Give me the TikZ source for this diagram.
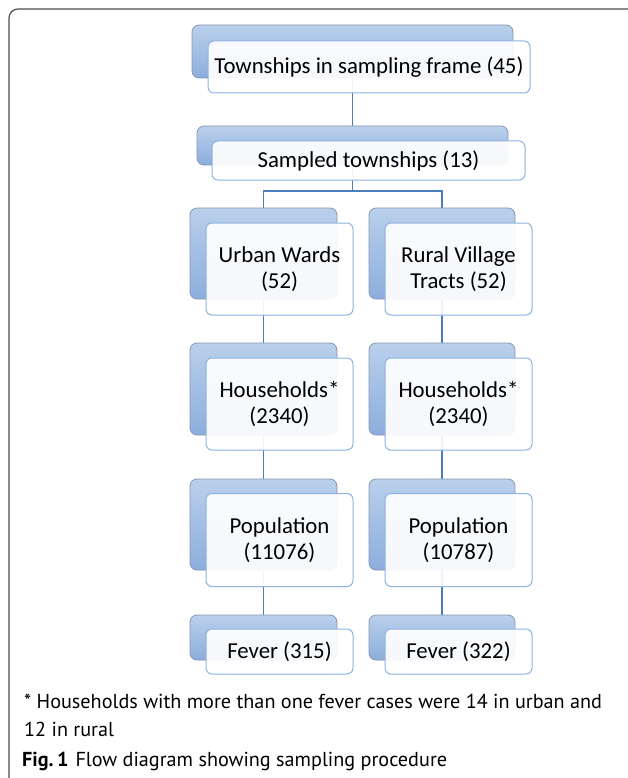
\documentclass[tikz,border=0pt]{standalone}
\usepackage{fontspec}
\setmainfont{Carlito}
\newfontfamily\notefont{PT Sans}
\usetikzlibrary{calc}
\definecolor{conn}{HTML}{4A7EBB}
\definecolor{backtop}{HTML}{BAD0EC}
\definecolor{backbot}{HTML}{8CADDC}
\definecolor{backedge}{HTML}{8797AD}
\definecolor{frontedge}{HTML}{8DB3E2}
\definecolor{framec}{HTML}{4D4D4D}
\tikzset{
  backbox/.style={rounded corners=7pt, draw=backedge, line width=0.8pt,
    top color=backtop, bottom color=backbot, inner sep=0pt, outer sep=0pt},
  frontbox/.style={rounded corners=6pt, draw=frontedge, line width=1pt,
    fill=white, fill opacity=0.92, text opacity=1, inner sep=0pt, outer sep=0pt,
    align=center, font=\fontsize{22.8}{25.5}\selectfont},
  connector/.style={draw=conn, line width=1.5pt},
  notetext/.style={anchor=base west, inner sep=0pt, font=\notefont\fontsize{20.2}{24}\selectfont}
}
\begin{document}
\begin{tikzpicture}[x=1pt,y=-1pt]
\useasboundingbox (0,0) rectangle (627,778);
% outer frame
\draw[framec, line width=1.2pt, rounded corners=9pt] (9,790) -- (9,9) -- (640,9);
% coordinates for back-box centres (used by connectors)
\coordinate (T1c) at (352.5,51.5);
\coordinate (T2c) at (352.5,145.5);
\coordinate (split) at (352.5,191);
\coordinate (L1c) at (263.5,253.5);
\coordinate (L2c) at (263.5,389);
\coordinate (L3c) at (263.5,524.5);
\coordinate (L4c) at (263.5,637.5);
\coordinate (R1c) at (442,253.5);
\coordinate (R2c) at (442,389);
\coordinate (R3c) at (442,524.5);
\coordinate (R4c) at (442,637.5);
% connectors
\draw[connector] (T1c) -- (T2c);
\draw[connector] (T2c) -- (split);
\draw[connector] (split) -| (L1c);
\draw[connector] (split) -| (R1c);
\draw[connector] (L1c) -- (L2c);
\draw[connector] (L2c) -- (L3c);
\draw[connector] (L3c) -- (L4c);
\draw[connector] (R1c) -- (R2c);
\draw[connector] (R2c) -- (R3c);
\draw[connector] (R3c) -- (R4c);
% boxes
\node[backbox, minimum width=321pt, minimum height=53pt] (T1b) at (T1c) {};
\node[frontbox, minimum width=322pt, minimum height=52pt] (T1) at (369,67) {Townships in sampling frame (45)};
\node[backbox, minimum width=311pt, minimum height=39pt] (T2b) at (T2c) {};
\node[frontbox, minimum width=313pt, minimum height=39pt] (T2) at (368.5,160.5) {Sampled townships (13)};
% left column
\node[backbox, minimum width=147pt, minimum height=91pt] (L1b) at (L1c) {};
\node[frontbox, minimum width=147pt, minimum height=92pt] (L1) at (279.5,269) {Urban Wards\\(52)};
\node[backbox, minimum width=147pt, minimum height=92pt] (L2b) at (L2c) {};
\node[frontbox, minimum width=147pt, minimum height=92pt] (L2) at (279.5,404) {Households*\\(2340)};
\node[backbox, minimum width=147pt, minimum height=91pt] (L3b) at (L3c) {};
\node[frontbox, minimum width=147pt, minimum height=93pt] (L3) at (279.5,540) {Population\\(11076)};
\node[backbox, minimum width=147pt, minimum height=45pt] (L4b) at (L4c) {};
\node[frontbox, minimum width=147pt, minimum height=45pt] (L4) at (279.5,651.5) {Fever (315)};
% right column
\node[backbox, minimum width=146pt, minimum height=91pt] (R1b) at (R1c) {};
\node[frontbox, minimum width=147pt, minimum height=92pt] (R1) at (458.5,269) {Rural Village\\Tracts (52)};
\node[backbox, minimum width=146pt, minimum height=92pt] (R2b) at (R2c) {};
\node[frontbox, minimum width=147pt, minimum height=92pt] (R2) at (458.5,404) {Households*\\(2340)};
\node[backbox, minimum width=146pt, minimum height=91pt] (R3b) at (R3c) {};
\node[frontbox, minimum width=147pt, minimum height=93pt] (R3) at (458.5,540) {Population\\(10787)};
\node[backbox, minimum width=146pt, minimum height=45pt] (R4b) at (R4c) {};
\node[frontbox, minimum width=147pt, minimum height=45pt] (R4) at (458.5,651.5) {Fever (322)};
% footnote and caption
\node[notetext] (note1) at (24,708) {* Households with more than one fever cases were 14 in urban and};
\node[notetext] (note2) at (24,736) {12 in rural};
\node[notetext] (cap) at (22,766) {\textbf{Fig.\,1}\hspace{7pt}Flow diagram showing sampling procedure};
\end{tikzpicture}
\end{document}
